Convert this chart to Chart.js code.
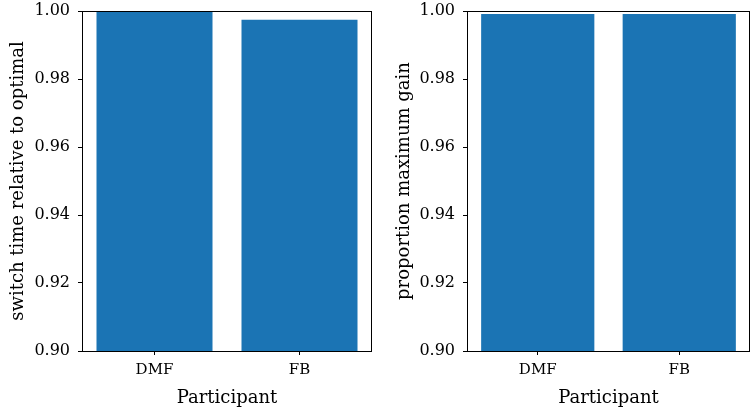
<!DOCTYPE html>
<html>
<head>
<meta charset="utf-8">
<script src="https://cdn.jsdelivr.net/npm/chart.js@4"></script>
<style>
  body { margin: 0; background: #fff; }
  .box { position: absolute; top: 0; height: 413px; }
</style>
</head>
<body>
<div class="box" style="left:0;width:380px"><canvas id="leftChart"></canvas></div>
<div class="box" style="left:380px;width:371px"><canvas id="rightChart"></canvas></div>
<script>
// data
var participants = ['DMF', 'FB'];
var switchTime = [1.000, 0.9974];
var maxGain = [0.9991, 0.9991];
var yTicks = [0.90, 0.92, 0.94, 0.96, 0.98, 1.00];

var serif = "'DejaVu Serif', serif";

// matplotlib style box round the plot area
var frame = {
    id: 'frame',
    afterDraw: function(chart) {
        var a = chart.chartArea, ctx = chart.ctx;
        ctx.save();
        ctx.strokeStyle = '#000';
        ctx.lineWidth = 1;
        ctx.strokeRect(Math.round(a.left) + 0.5, Math.round(a.top) + 0.5,
            Math.round(a.right - a.left) - 1, Math.round(a.bottom - a.top));
        ctx.restore();
    }
};

function makeChart(id, values, yTitle, yWidth, titlePad, rightPad) {
    new Chart(document.getElementById(id), {
        type: 'bar',
        data: {
            labels: participants,
            datasets: [{
                data: values,
                backgroundColor: '#1b74b4',
                borderWidth: 0,
                categoryPercentage: 0.8,
                barPercentage: 1.0
            }]
        },
        options: {
            responsive: true,
            maintainAspectRatio: false,
            animation: false,
            layout: { padding: { top: 11, right: rightPad, left: 0, bottom: 0 } },
            plugins: { legend: { display: false }, tooltip: { enabled: false } },
            scales: {
                x: {
                    grid: { display: true, offset: false, drawOnChartArea: false, drawTicks: true, tickLength: 4, color: '#000' },
                    border: { display: false },
                    ticks: { color: '#000', padding: 6, font: { family: serif, size: 15 } },
                    title: { display: true, text: 'Participant', color: '#000', padding: { top: 4, bottom: 4 }, font: { family: serif, size: 18 } },
                    afterFit: function(scale) { scale.height = 62; }
                },
                y: {
                    min: 0.90,
                    max: 1.00,
                    afterBuildTicks: function(scale) {
                        scale.ticks = yTicks.map(function(v) { return { value: v }; });
                    },
                    grid: { display: true, drawOnChartArea: false, drawTicks: true, tickLength: 4, color: '#000' },
                    border: { display: false },
                    ticks: {
                        color: '#000', padding: 8, font: { family: serif, size: 16 },
                        callback: function(v) { return v.toFixed(2); }
                    },
                    title: { display: true, text: yTitle, color: '#000', padding: { top: titlePad, bottom: 0 }, font: { family: serif, size: 18 } },
                    afterFit: function(scale) {
                        scale.width = yWidth;
                        scale.paddingTop = 0;
                        scale.paddingBottom = 0;
                    }
                }
            }
        },
        plugins: [frame]
    });
}

makeChart('leftChart', switchTime, 'switch time relative to optimal', 82, 8, 8);
makeChart('rightChart', maxGain, 'proportion maximum gain', 87, 14, 1);
</script>
</body>
</html>
